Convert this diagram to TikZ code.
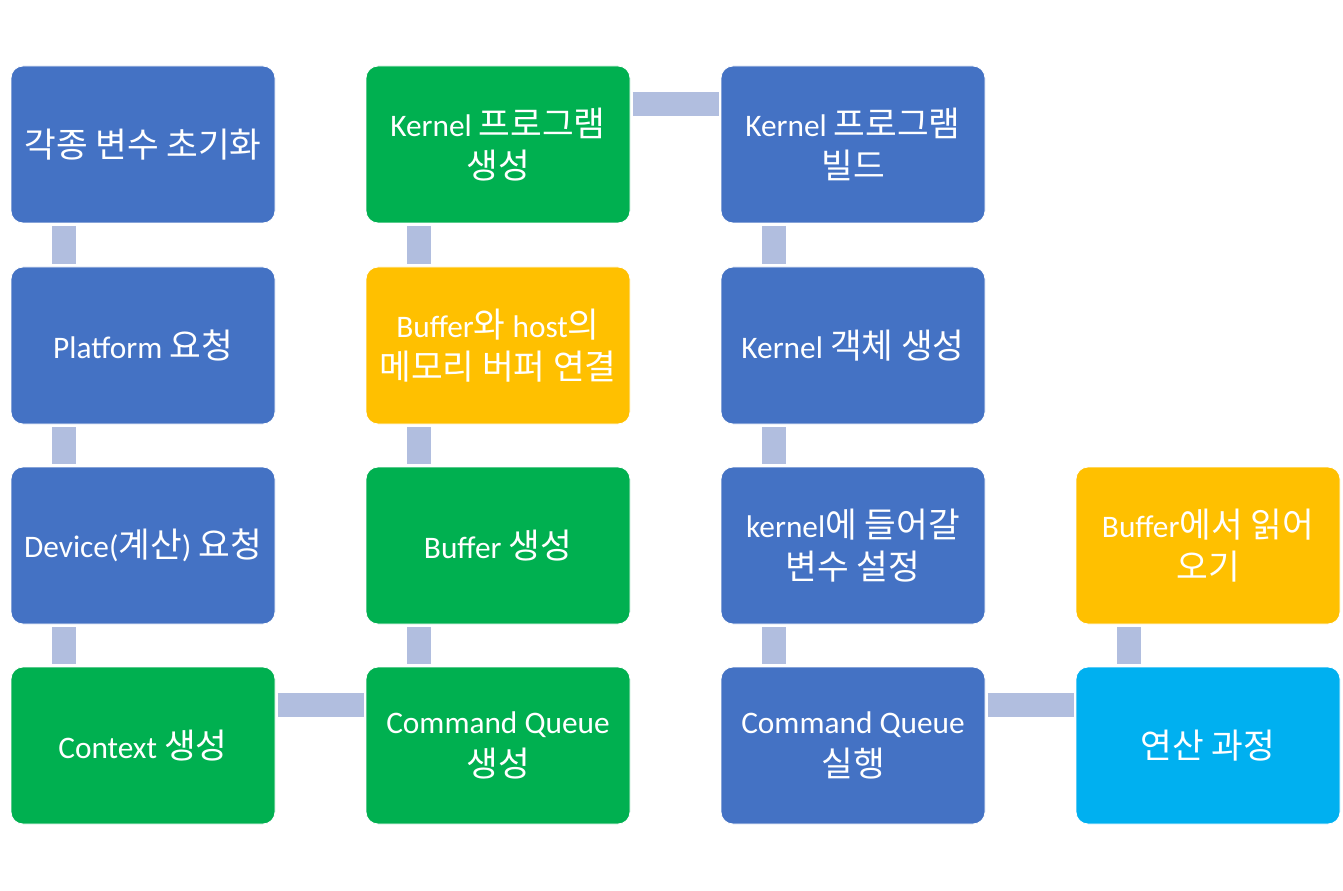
\documentclass[tikz,border=0pt]{standalone}
\usepackage{fontspec}
\setmainfont{Carlito}
\newfontfamily\kr[Scale=1.1]{Noto Sans CJK KR}
\usetikzlibrary{calc}
\definecolor{cblue}{HTML}{4472C4}
\definecolor{cgreen}{HTML}{00B050}
\definecolor{cyellow}{HTML}{FFC000}
\definecolor{ccyan}{HTML}{00B0F0}
\definecolor{cconn}{HTML}{B1BEDF}
\tikzset{
  box/.style={rectangle, rounded corners=9pt, fill=#1, draw=white, line width=0.6pt,
    minimum width=198pt, minimum height=117.75pt, inner sep=0pt, outer sep=0pt,
    text=white, align=center, font=\fontsize{23.5}{32}\selectfont},
  conn/.style={draw=cconn, line width=18pt}
}
\begin{document}
\begin{tikzpicture}[x=0.75pt,y=-0.75pt]
\useasboundingbox (0,0) rectangle (1343,891);
% columns left: 11, 366, 721, 1076 ; width 264 -> centers 143, 498, 853, 1208
% rows top: 66, 267, 467, 667 ; height 157 -> centers 144.5, 345.5, 545.5, 745.5
\node[box=cblue]  (n11) at (143,144.5) {{\kr 각종 변수 초기화}};
\node[box=cblue]  (n12) at (143,345.5) {Platform {\kr 요청}};
\node[box=cblue]  (n13) at (143,545.5) {Device({\kr 계산}) {\kr 요청}};
\node[box=cgreen] (n14) at (143,745.5) {Context {\kr 생성}};

\node[box=cgreen]  (n21) at (498,144.5) {Kernel {\kr 프로그램}\\{\kr 생성}};
\node[box=cyellow] (n22) at (498,345.5) {Buffer{\kr 와} host{\kr 의}\\{\kr 메모리 버퍼 연결}};
\node[box=cgreen]  (n23) at (498,545.5) {Buffer {\kr 생성}};
\node[box=cgreen]  (n24) at (498,745.5) {Command Queue\\{\kr 생성}};

\node[box=cblue] (n31) at (853,144.5) {Kernel {\kr 프로그램}\\{\kr 빌드}};
\node[box=cblue] (n32) at (853,345.5) {Kernel {\kr 객체 생성}};
\node[box=cblue] (n33) at (853,545.5) {kernel{\kr 에 들어갈}\\{\kr 변수 설정}};
\node[box=cblue] (n34) at (853,745.5) {Command Queue\\{\kr 실행}};

\node[box=cyellow] (n43) at (1208,545.5) {Buffer{\kr 에서 읽어}\\{\kr 오기}};
\node[box=ccyan]   (n44) at (1208,745.5) {{\kr 연산 과정}};

% vertical connectors (upper/lower)
\foreach \a/\b in {n11/n12, n12/n13, n13/n14, n23/n24, n22/n23, n21/n22, n31/n32, n32/n33, n33/n34, n43/n44}{
  \draw[conn] ($(\a.south west)+(53,3)$) -- ($(\b.north west)+(53,-3)$);
}
% horizontal connectors
\draw[conn] ($(n14.north east)+(2.5,38)$) -- ($(n24.north west)+(-2.5,38)$);
\draw[conn] ($(n21.north east)+(2.5,38)$) -- ($(n31.north west)+(-2.5,38)$);
\draw[conn] ($(n34.north east)+(2.5,38)$) -- ($(n44.north west)+(-2.5,38)$);
\end{tikzpicture}
\end{document}
